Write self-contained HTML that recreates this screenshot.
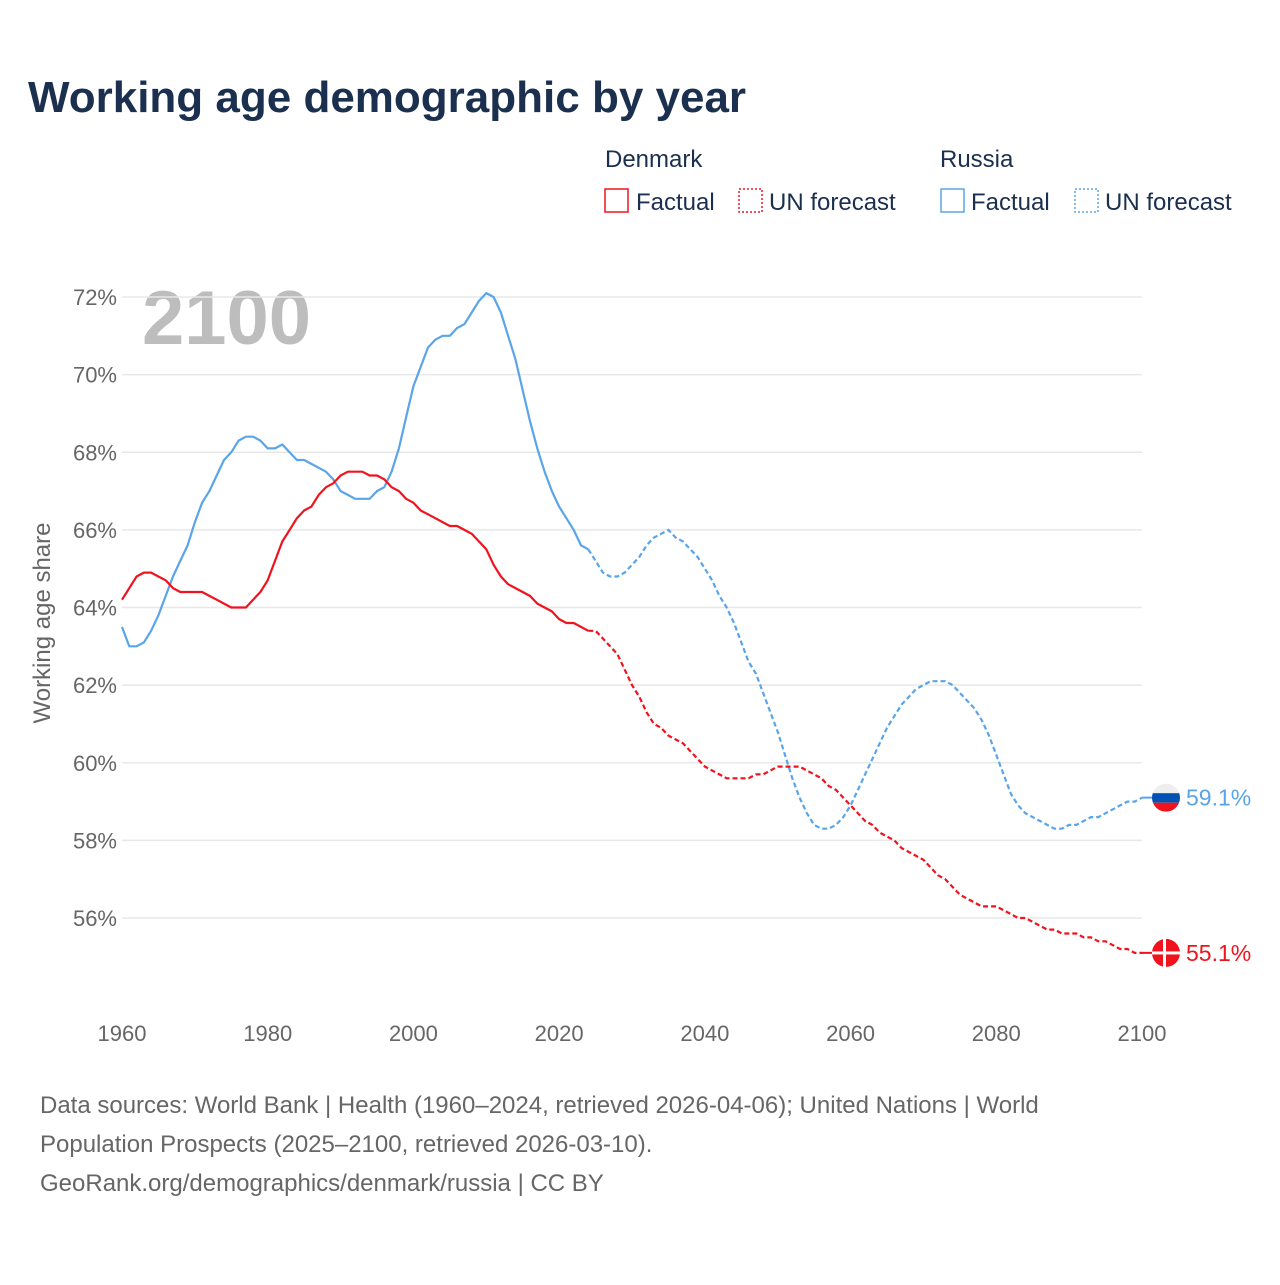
<!DOCTYPE html>
<html><head><meta charset="utf-8">
<style>
body{margin:0;background:#fff;font-family:"Liberation Sans",sans-serif;}
svg text{font-family:"Liberation Sans",sans-serif;}
</style></head>
<body>
<svg id="chart" width="1280" height="1280" viewBox="0 0 1280 1280" xmlns="http://www.w3.org/2000/svg">
<defs><clipPath id="ruclip"><circle cx="1166" cy="795" r="14"/></clipPath></defs>
<text x="28" y="112" font-size="44" font-weight="bold" fill="#1b2f4f">Working age demographic by year</text>
<g font-size="24" fill="#1b2f4f">
<text x="605" y="167">Denmark</text>
<text x="940" y="167">Russia</text>
<g><rect x="605" y="189" width="23" height="23" fill="none" stroke="#f0131e" stroke-width="1.5"/><text x="636" y="210">Factual</text></g>
<g><rect x="739" y="189" width="23" height="23" fill="none" stroke="#f0131e" stroke-width="1.5" stroke-dasharray="2,2"/><text x="769" y="210">UN forecast</text></g>
<g><rect x="941" y="189" width="23" height="23" fill="none" stroke="#5aa5ea" stroke-width="1.5"/><text x="971" y="210">Factual</text></g>
<g><rect x="1075" y="189" width="23" height="23" fill="none" stroke="#5aa5ea" stroke-width="1.5" stroke-dasharray="2,2"/><text x="1105" y="210">UN forecast</text></g>
</g>
<text x="142" y="344" font-size="76" font-weight="bold" fill="#bdbdbd">2100</text>
<text transform="translate(50,623) rotate(-90)" text-anchor="middle" font-size="24" fill="#666">Working age share</text>
<g id="grid"></g><g id="series"></g>
<g font-size="24" fill="#666">
<text x="40" y="1113">Data sources: World Bank | Health (1960–2024, retrieved 2026-04-06); United Nations | World</text>
<text x="40" y="1152">Population Prospects (2025–2100, retrieved 2026-03-10).</text>
<text x="40" y="1191">GeoRank.org/demographics/denmark/russia | CC BY</text>
</g>
</svg>
<script>
const yTicks=[56,58,60,62,64,66,68,70,72];
const xTicks=[1960,1980,2000,2020,2040,2060,2080,2100];
const years=[];for(let y=1960;y<=2100;y++)years.push(y);
const lastFactualYear=2024;
const denmark=[64.2,64.5,64.8,64.9,64.9,64.8,64.7,64.5,64.4,64.4,64.4,64.4,64.3,64.2,64.1,64.0,64.0,64.0,64.2,64.4,64.7,65.2,65.7,66.0,66.3,66.5,66.6,66.9,67.1,67.2,67.4,67.5,67.5,67.5,67.4,67.4,67.3,67.1,67.0,66.8,66.7,66.5,66.4,66.3,66.2,66.1,66.1,66.0,65.9,65.7,65.5,65.1,64.8,64.6,64.5,64.4,64.3,64.1,64.0,63.9,63.7,63.6,63.6,63.5,63.4,
63.4,63.2,63.0,62.8,62.4,62.0,61.7,61.3,61.0,60.9,60.7,60.6,60.5,60.3,60.1,59.9,59.8,59.7,59.6,59.6,59.6,59.6,59.7,59.7,59.8,59.9,59.9,59.9,59.9,59.8,59.7,59.6,59.4,59.3,59.1,58.9,58.7,58.5,58.4,58.2,58.1,58.0,57.8,57.7,57.6,57.5,57.3,57.1,57.0,56.8,56.6,56.5,56.4,56.3,56.3,56.3,56.2,56.1,56.0,56.0,55.9,55.8,55.7,55.7,55.6,55.6,55.6,55.5,55.5,55.4,55.4,55.3,55.2,55.2,55.1,55.1];
const russia=[63.5,63.0,63.0,63.1,63.4,63.8,64.3,64.8,65.2,65.6,66.2,66.7,67.0,67.4,67.8,68.0,68.3,68.4,68.4,68.3,68.1,68.1,68.2,68.0,67.8,67.8,67.7,67.6,67.5,67.3,67.0,66.9,66.8,66.8,66.8,67.0,67.1,67.5,68.1,68.9,69.7,70.2,70.7,70.9,71.0,71.0,71.2,71.3,71.6,71.9,72.1,72.0,71.6,71.0,70.4,69.6,68.8,68.1,67.5,67.0,66.6,66.3,66.0,65.6,65.5,
65.2,64.9,64.8,64.8,64.9,65.1,65.3,65.6,65.8,65.9,66.0,65.8,65.7,65.5,65.3,65.0,64.7,64.3,64.0,63.6,63.1,62.6,62.3,61.8,61.3,60.8,60.2,59.6,59.1,58.7,58.4,58.3,58.3,58.4,58.6,58.9,59.3,59.7,60.1,60.5,60.9,61.2,61.5,61.7,61.9,62.0,62.1,62.1,62.1,62.0,61.8,61.6,61.4,61.1,60.7,60.2,59.7,59.2,58.9,58.7,58.6,58.5,58.4,58.3,58.3,58.4,58.4,58.5,58.6,58.6,58.7,58.8,58.9,59.0,59.0,59.1];
const NS='http://www.w3.org/2000/svg';
const X0=122,X1=1142,Y72=297,Y56=918;
const xs=y=>X0+(y-1960)*(X1-X0)/140;
const ys=v=>Y56-(v-56)*(Y56-Y72)/16;
function mk(tag,attrs,parent){const e=document.createElementNS(NS,tag);for(const k in attrs)e.setAttribute(k,attrs[k]);parent.appendChild(e);return e;}
const grid=document.getElementById('grid');
yTicks.forEach(t=>{
 const l=mk('line',{x1:X0,x2:X1,y1:ys(t),y2:ys(t),stroke:'#e8e8e8','stroke-width':1.5},grid);
 
 
 const tx=mk('text',{x:117,y:ys(t)+8,'text-anchor':'end','font-size':22,fill:'#666'},grid);
 tx.textContent=t+'%';
 
 
});
xTicks.forEach(t=>{
 const tx=mk('text',{x:xs(t),y:1041,'text-anchor':'middle','font-size':22,fill:'#666'},grid);
 tx.textContent=t;
 
 
});
const sg=document.getElementById('series');
function pathFor(vals,from,to){let d='';for(let i=0;i<years.length;i++){const y=years[i];if(y<from||y>to)continue;d+=(d?'L':'M')+xs(y).toFixed(1)+','+ys(vals[i]).toFixed(1);}return d;}
function draw(vals,color,name){
 const a=mk('path',{d:pathFor(vals,1960,lastFactualYear),fill:'none',stroke:color,'stroke-width':2.2,'stroke-linejoin':'round'},sg);
 
 
 const b=mk('path',{d:pathFor(vals,lastFactualYear,2100),fill:'none',stroke:color,'stroke-width':2.2,'stroke-dasharray':'5,3'},sg);
 
 
}
draw(russia,'#5aa5ea','russia');
draw(denmark,'#f0131e','denmark');
function endMarker(vals,color,name,flag){
 const v=vals[vals.length-1],cy=ys(v),cx=1166;
 mk('line',{x1:X1,x2:cx,y1:cy,y2:cy,stroke:color,'stroke-width':2},sg);
 const g=mk('g',{},sg);
 
 
 if(flag==='ru'){
  const cc=document.querySelector('#ruclip circle');cc.setAttribute('cy',cy);
  const fg=mk('g',{'clip-path':'url(#ruclip)'},g);
  mk('rect',{x:cx-14,y:cy-14,width:28,height:10,fill:'#eeeeee'},fg);
  mk('rect',{x:cx-14,y:cy-4.5,width:28,height:9.5,fill:'#0052b4'},fg);
  mk('rect',{x:cx-14,y:cy+5,width:28,height:10,fill:'#f0131e'},fg);
 }else{
  mk('circle',{cx:cx,cy:cy,r:14,fill:'#f0131e'},g);
  mk('rect',{x:cx-14,y:cy-1.5,width:28,height:3,fill:'#fff'},g);
  mk('rect',{x:cx-3,y:cy-14,width:3,height:28,fill:'#fff'},g);
 }
 const t=mk('text',{x:1186,y:cy+8,'font-size':23,fill:color},sg);
 t.textContent=v.toFixed(1)+'%';
 
 
}
endMarker(russia,'#5aa5ea','russia','ru');
endMarker(denmark,'#f0131e','denmark','dk');
</script>
</body></html>
